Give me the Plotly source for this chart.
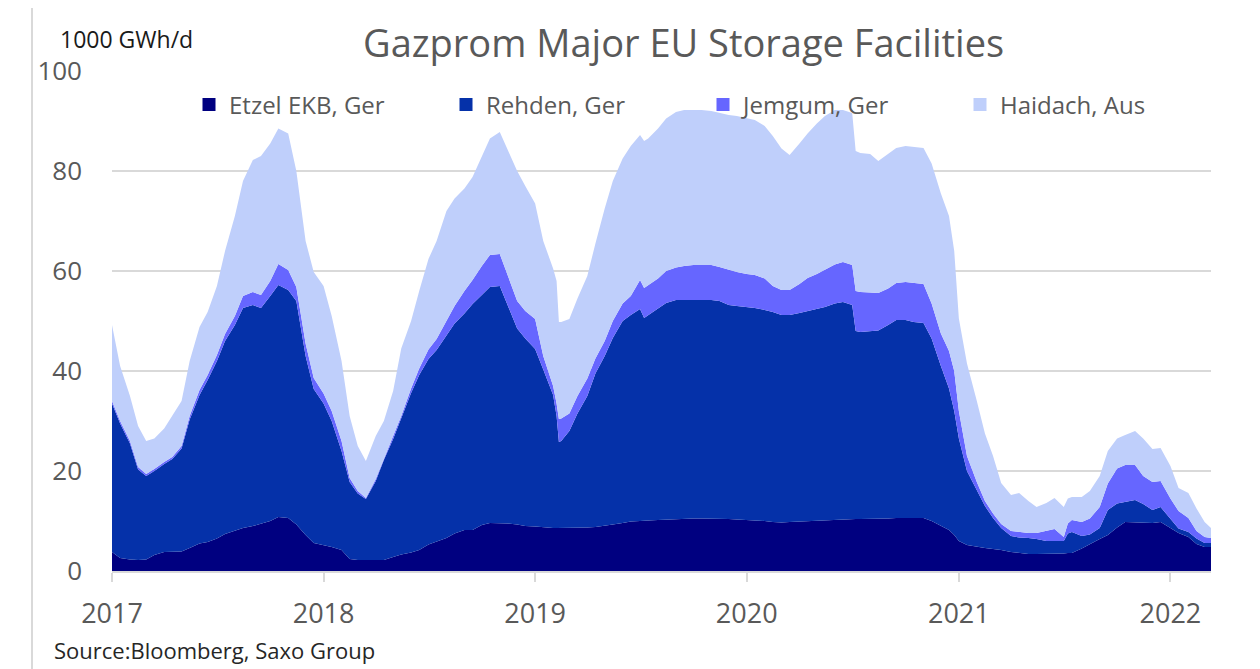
import plotly.graph_objects as go

dates = [
    "2017-01-01", "2017-01-15", "2017-02-01", "2017-02-15", "2017-03-01", "2017-03-15",
    "2017-04-01", "2017-04-15", "2017-05-01", "2017-05-15", "2017-06-01", "2017-06-15",
    "2017-07-01", "2017-07-15", "2017-08-01", "2017-08-15", "2017-09-01", "2017-09-15",
    "2017-10-01", "2017-10-15", "2017-11-01", "2017-11-15", "2017-12-01", "2017-12-15",
    "2018-01-01", "2018-01-15", "2018-02-01", "2018-02-15", "2018-03-01", "2018-03-15",
    "2018-04-01", "2018-04-15", "2018-05-01", "2018-05-15", "2018-06-01", "2018-06-15",
    "2018-07-01", "2018-07-15", "2018-08-01", "2018-08-15", "2018-09-01", "2018-09-15",
    "2018-10-01", "2018-10-15", "2018-11-01", "2018-11-15", "2018-12-01", "2018-12-15",
    "2019-01-01", "2019-01-15", "2019-02-01", "2019-02-07", "2019-02-11", "2019-02-15",
    "2019-03-01", "2019-03-15", "2019-04-01", "2019-04-15", "2019-05-01", "2019-05-15",
    "2019-06-01", "2019-06-15", "2019-07-01", "2019-07-08", "2019-07-15", "2019-08-01",
    "2019-08-15", "2019-09-01", "2019-09-15", "2019-10-01", "2019-10-15", "2019-11-01",
    "2019-11-15", "2019-12-01", "2019-12-15",
    "2020-01-01", "2020-01-15", "2020-02-01", "2020-02-15", "2020-03-01", "2020-03-15",
    "2020-04-01", "2020-04-15", "2020-05-01", "2020-05-15", "2020-06-01", "2020-06-15",
    "2020-07-01", "2020-07-07", "2020-07-15", "2020-08-01", "2020-08-15", "2020-09-01",
    "2020-09-15", "2020-10-01", "2020-10-15", "2020-11-01", "2020-11-15", "2020-12-01",
    "2020-12-15", "2020-12-24",
    "2021-01-01", "2021-01-15", "2021-02-01", "2021-02-15", "2021-03-01", "2021-03-15",
    "2021-04-01", "2021-04-15", "2021-05-01", "2021-05-15", "2021-06-01", "2021-06-15",
    "2021-07-01", "2021-07-08", "2021-07-15", "2021-08-01", "2021-08-15", "2021-09-01",
    "2021-09-15", "2021-10-01", "2021-10-15", "2021-11-01", "2021-11-15", "2021-12-01",
    "2021-12-15",
    "2022-01-01", "2022-01-15", "2022-02-01", "2022-02-15", "2022-03-01", "2022-03-12",
]

etzel = [
    3.8, 2.6, 2.3, 2.2, 2.3, 3.2, 3.8, 3.8, 3.9, 4.6, 5.5, 5.8,
    6.5, 7.4, 8.0, 8.6, 9.0, 9.4, 10.0, 10.8, 10.6, 9.3, 7.2, 5.6,
    5.2, 4.8, 4.2, 2.4, 2.2, 2.2, 2.2, 2.2, 2.8, 3.3, 3.7, 4.2,
    5.3, 5.9, 6.6, 7.5, 8.2, 8.2, 9.2, 9.6, 9.6, 9.5, 9.3, 9.0,
    8.9, 8.7, 8.6, 8.6, 8.6, 8.6, 8.6, 8.6, 8.7, 8.8, 9.0, 9.3,
    9.6, 9.9, 10.0, 10.0, 10.1, 10.2, 10.3, 10.4, 10.4, 10.5, 10.5, 10.5,
    10.5, 10.4, 10.3,
    10.2, 10.2, 10.0, 9.8, 9.7, 9.8, 9.9, 10.0, 10.1, 10.2, 10.3, 10.4,
    10.4, 10.4, 10.4, 10.4, 10.5, 10.5, 10.6, 10.6, 10.6, 10.6, 10.0, 9.0,
    8.2, 7.2,
    6.0, 5.2, 4.8, 4.6, 4.4, 4.2, 3.8, 3.6, 3.4, 3.4, 3.4, 3.4,
    3.5, 3.6, 3.6, 4.5, 5.4, 6.4, 7.2, 8.7, 9.8, 9.7, 9.6, 9.6,
    9.8,
    8.6, 7.6, 6.8, 5.4, 4.8, 4.8,
]

rehden = [
    29.7, 26.9, 23.2, 18.1, 16.7, 16.8, 17.6, 18.6, 20.6, 25.7, 29.7, 32.4,
    35.5, 38.6, 41.2, 44.0, 44.2, 43.2, 45.0, 46.4, 45.6, 44.7, 35.8, 30.8,
    28.3, 25.2, 19.8, 15.4, 13.3, 12.2, 15.8, 20.0, 23.6, 27.1, 31.9, 35.0,
    37.1, 38.3, 40.4, 42.0, 43.3, 45.2, 46.0, 47.2, 47.4, 43.5, 39.2, 37.5,
    35.5, 31.6, 26.6, 22.4, 17.2, 17.4, 19.4, 22.9, 26.3, 30.7, 34.0, 37.3,
    40.4, 41.3, 42.4, 40.6, 41.1, 42.3, 43.3, 43.8, 43.8, 43.7, 43.7, 43.7,
    43.5, 42.8, 42.7,
    42.6, 42.4, 42.2, 42.0, 41.5, 41.4, 41.7, 42.0, 42.3, 42.6, 43.2, 43.4,
    42.8, 37.6, 37.4, 37.5, 37.6, 38.7, 39.6, 39.6, 39.2, 39.0, 36.5, 32.0,
    28.3, 24.8,
    20.5, 14.8, 11.4, 8.4, 6.2, 4.4, 3.2, 3.1, 3.2, 3.0, 2.6, 2.6,
    2.5, 3.9, 4.2, 2.5, 1.9, 2.2, 5.0, 4.8, 4.0, 4.5, 3.8, 2.6,
    3.0,
    1.9, 0.9, 1.0, 1.1, 0.8, 0.8,
]

jemgum = [
    0.5, 0.5, 0.5, 0.5, 0.4, 0.4, 0.4, 0.4, 0.5, 0.7, 1.0, 1.0,
    1.2, 1.4, 1.8, 2.4, 2.6, 2.6, 3.0, 4.2, 4.0, 2.8, 2.5, 2.2,
    2.0, 2.0, 2.0, 0.8, 0.5, 0.2, 0.4, 0.4, 0.6, 0.6, 0.9, 1.3,
    1.9, 2.2, 3.0, 3.5, 4.5, 4.8, 5.8, 6.4, 6.4, 6.0, 5.5, 5.5,
    6.0, 2.7, 1.8, 2.5, 4.6, 4.5, 3.5, 3.5, 3.5, 3.0, 3.0, 3.4,
    3.5, 3.8, 5.8, 6.0, 6.0, 6.0, 6.4, 6.5, 6.8, 7.0, 7.0, 7.0,
    6.8, 7.0, 6.8,
    6.6, 6.6, 6.3, 5.2, 5.0, 5.0, 5.8, 6.6, 7.0, 7.5, 7.8, 8.0,
    8.0, 8.0, 8.0, 7.8, 7.5, 7.3, 7.4, 7.6, 7.8, 7.8, 7.0, 6.5,
    7.5, 8.0,
    5.5, 3.0, 1.6, 1.0, 0.9, 0.8, 1.0, 1.1, 1.0, 1.2, 2.0, 2.4,
    0.8, 2.0, 2.4, 2.8, 3.2, 4.2, 5.3, 7.0, 7.4, 7.0, 5.6, 5.6,
    5.2,
    4.0, 3.5, 2.8, 1.5, 1.2, 1.0,
]

haidach = [
    15.2, 11.0, 9.0, 8.2, 6.6, 6.1, 6.7, 8.2, 9.0, 11.0, 12.6, 12.6,
    13.8, 16.6, 20.0, 23.0, 26.4, 27.8, 27.5, 27.1, 27.3, 23.2, 20.5, 21.2,
    21.5, 19.0, 16.0, 12.4, 9.0, 7.4, 8.6, 7.4, 9.0, 13.5, 13.5, 15.5,
    18.1, 19.6, 22.0, 21.5, 20.5, 20.6, 22.0, 23.3, 24.4, 25.0, 26.0, 25.0,
    23.1, 23.0, 23.5, 24.5, 19.4, 19.3, 18.9, 19.5, 20.5, 23.0, 26.5, 28.0,
    29.0, 30.0, 29.0, 29.4, 29.3, 30.0, 30.5, 31.1, 31.2, 31.0, 31.0, 30.8,
    30.8, 31.0, 31.2,
    31.2, 31.0, 30.5, 30.0, 28.3, 27.0, 28.1, 28.9, 30.1, 30.7, 30.9, 30.4,
    30.4, 28.0, 27.8, 27.7, 26.4, 26.9, 27.0, 27.2, 27.2, 27.2, 28.0, 28.0,
    27.0, 24.0,
    18.5, 18.5, 16.2, 13.5, 11.5, 8.2, 7.2, 7.8, 6.4, 5.2, 5.6, 6.2,
    6.0, 5.0, 4.6, 5.0, 5.5, 6.2, 6.5, 6.0, 6.0, 6.8, 7.5, 6.6,
    6.6,
    6.5, 4.6, 5.0, 4.5, 3.0, 2.0,
]

series_names = ["Etzel EKB, Ger", "Rehden, Ger", "Jemgum, Ger", "Haidach, Aus"]
series_colors = ["#000080", "#0531A9", "#6666FF", "#BFCFFB"]
year_ticks = ["2017-01-01", "2018-01-01", "2019-01-01", "2020-01-01", "2021-01-01", "2022-01-01"]
year_labels = ["2017", "2018", "2019", "2020", "2021", "2022"]
y_ticks = [0, 20, 40, 60, 80, 100]

FONT = "Open Sans, Roboto, sans-serif"
GRAY = "#595959"
LIGHT = "#d9d9d9"

fig = go.Figure()
for name, vals, col in zip(series_names, [etzel, rehden, jemgum, haidach], series_colors):
    fig.add_trace(go.Scatter(
        x=dates, y=vals, name=name, mode="lines", stackgroup="one",
        line=dict(width=0, color=col), fillcolor=col, showlegend=False,
        hoverinfo="skip",
    ))
for name, col in zip(series_names, series_colors):
    fig.add_trace(go.Scatter(
        x=[None], y=[None], name=name, mode="markers",
        marker=dict(symbol="square", size=13, color=col), showlegend=True,
    ))

# The page puts the figure 8px in from the top-left corner.
OFF = 8
W, H = 1260 - OFF, 669 - OFF
# plot area (page px): x 112..1211, y 71..571
L, T = 112 - OFF, 71 - OFF
R = W - (1211 - OFF)
B = H - (571 - OFF)
PW = W - L - R
PH = H - T - B

def px(xp):
    return (xp - OFF - L) / PW

def py(yp):
    return (T + PH - (yp - OFF)) / PH

fig.update_layout(
    width=W, height=H,
    margin=dict(l=L, r=R, t=T, b=B),
    paper_bgcolor="white", plot_bgcolor="white",
    font=dict(family=FONT, color=GRAY),
    showlegend=True,
    legend=dict(
        orientation="h", traceorder="normal",
        x=px(189), y=py(105), xanchor="left", yanchor="middle",
        font=dict(size=24, color=GRAY), entrywidth=212, entrywidthmode="pixels",
        bgcolor="rgba(0,0,0,0)", itemclick=False, itemdoubleclick=False,
    ),
    xaxis=dict(
        type="date", range=["2017-01-01", "2022-03-12"],
        tickvals=year_ticks, ticktext=year_labels,
        showgrid=False, zeroline=False,
        showline=True, linecolor=LIGHT, linewidth=2,
        ticks="outside", ticklen=9, tickwidth=2, tickcolor=LIGHT,
        tickfont=dict(size=27, color=GRAY), ticklabelstandoff=9,
    ),
    yaxis=dict(
        range=[0, 100], tickvals=y_ticks,
        showgrid=True, gridcolor=LIGHT, gridwidth=2,
        zeroline=False, showline=False, ticks="",
        tickfont=dict(size=26, color=GRAY), ticklabelstandoff=29,
    ),
    annotations=[
        dict(text="Gazprom Major EU Storage Facilities", xref="paper", yref="paper",
             x=px(683), y=py(42), xanchor="center", yanchor="middle", showarrow=False,
             font=dict(size=38, color=GRAY, family=FONT)),
        dict(text="1000 GWh/d", xref="paper", yref="paper",
             x=px(58), y=py(39), xanchor="left", yanchor="middle", showarrow=False,
             font=dict(size=23, color="#1a1a1a", family=FONT)),
        dict(text="Source:Bloomberg, Saxo Group", xref="paper", yref="paper",
             x=px(52), y=py(650), xanchor="left", yanchor="middle", showarrow=False,
             font=dict(size=22, color="#262626", family=FONT)),
    ],
    shapes=[
        dict(type="rect", xref="paper", yref="paper",
             x0=px(32), x1=px(1258), y0=py(720), y1=py(3),
             line=dict(color=LIGHT, width=2), fillcolor="rgba(0,0,0,0)", layer="below"),
    ],
)

fig.write_html("out.html")
